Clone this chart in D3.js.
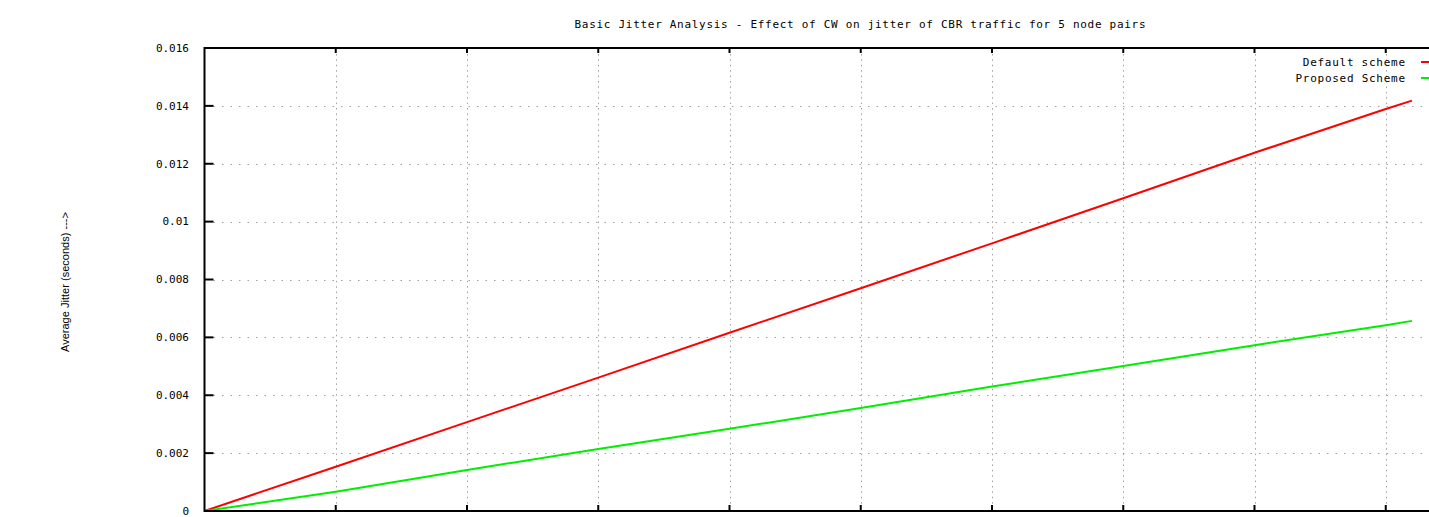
<!DOCTYPE html>
<html>
<head>
<meta charset="utf-8">
<script src="https://cdn.jsdelivr.net/npm/d3@7"></script>
<style>
  body { margin: 0; background: #fff; }
  svg { display: block; }
  text { font-family: "DejaVu Sans Mono", monospace; fill: #000; }
</style>
</head>
<body>
<div id="chart"></div>
<script>
const width = 1429, height = 517;

// data (x in tick units, x labels are cut off below the frame)
const xValues = [0, 10, 20, 30, 40, 50, 60, 70, 80, 90, 92];
const defaultScheme = [0, 0.00153, 0.00307, 0.00461, 0.00616, 0.00770, 0.00925, 0.01081, 0.01238, 0.01389, 0.01418];
const proposedScheme = [0, 0.000667, 0.00142, 0.00214, 0.00284, 0.00356, 0.00430, 0.00501, 0.00573, 0.00642, 0.00657];
const yTicks = [0, 0.002, 0.004, 0.006, 0.008, 0.01, 0.012, 0.014, 0.016];
const yTickLabels = ["0", "0.002", "0.004", "0.006", "0.008", "0.01", "0.012", "0.014", "0.016"];
const xTicks = [10, 20, 30, 40, 50, 60, 70, 80, 90];
const seriesNames = ["Default scheme", "Proposed Scheme"];
const seriesColors = ["#ff0000", "#00ee00"];

const plotLeft = 204.5, plotTop = 48, plotBottom = 511;
const x = d3.scaleLinear().domain([0, 100]).range([plotLeft, plotLeft + 1312.5]);
const y = d3.scaleLinear().domain([0, 0.016]).range([plotBottom, plotTop]);

const svg = d3.select("#chart")
  .append("svg")
  .attr("width", width)
  .attr("height", height);

svg.append("defs").append("clipPath").attr("id", "plot")
  .append("rect")
  .attr("x", plotLeft).attr("y", plotTop)
  .attr("width", x(100) - plotLeft).attr("height", plotBottom - plotTop);

// grid
const grid = svg.append("g").attr("stroke", "#a0a0a0").attr("stroke-width", 1);
grid.selectAll(".gy")
  .data(yTicks.slice(1, -1))
  .enter().append("line")
  .attr("x1", plotLeft + 9).attr("x2", x(100))
  .attr("y1", d => Math.round(y(d)) + 0.5).attr("y2", d => Math.round(y(d)) + 0.5)
  .attr("stroke-dasharray", "1.5,7");
grid.selectAll(".gx")
  .data(xTicks)
  .enter().append("line")
  .attr("x1", d => Math.round(x(d)) + 0.5).attr("x2", d => Math.round(x(d)) + 0.5)
  .attr("y1", plotTop + 6).attr("y2", plotBottom - 6)
  .attr("stroke-dasharray", "1.5,3.9");

// series
const line = d3.line()
  .x((d, i) => x(xValues[i]))
  .y(d => y(d));

const plot = svg.append("g").attr("clip-path", "url(#plot)");
[defaultScheme, proposedScheme].forEach((s, k) => {
  plot.append("path")
    .datum(s)
    .attr("fill", "none")
    .attr("stroke", seriesColors[k])
    .attr("stroke-width", 2)
    .attr("d", line);
});

// border
const border = svg.append("g").attr("stroke", "#000").attr("stroke-width", 2).attr("fill", "none");
border.append("path")
  .attr("d", `M${x(100)},${plotTop}H${plotLeft}V${plotBottom}H${x(100)}`);

// y ticks
border.selectAll(".ty")
  .data(yTicks)
  .enter().append("line")
  .attr("x1", plotLeft).attr("x2", plotLeft + 9)
  .attr("y1", d => y(d)).attr("y2", d => y(d));

// x ticks, top and bottom
border.selectAll(".tb")
  .data(xTicks)
  .enter().append("line")
  .attr("x1", d => x(d)).attr("x2", d => x(d))
  .attr("y1", plotBottom).attr("y2", plotBottom - 6);
border.selectAll(".tt")
  .data(xTicks)
  .enter().append("line")
  .attr("x1", d => x(d)).attr("x2", d => x(d))
  .attr("y1", plotTop).attr("y2", plotTop + 5);

// y tick labels
svg.selectAll(".yl")
  .data(yTicks)
  .enter().append("text")
  .attr("x", 189)
  .attr("y", d => y(d))
  .attr("dy", "0.35em")
  .attr("text-anchor", "end")
  .attr("font-size", 11)
  .text((d, i) => yTickLabels[i]);

// title
svg.append("text")
  .attr("x", 860).attr("y", 24)
  .attr("dy", "0.35em")
  .attr("text-anchor", "middle")
  .attr("font-size", 11)
  .attr("textLength", 571)
  .text("Basic Jitter Analysis - Effect of CW on jitter of CBR traffic for 5 node pairs");

// y axis label
svg.append("text")
  .attr("transform", "translate(65,282) rotate(-90)")
  .attr("dy", "0.35em")
  .attr("text-anchor", "middle")
  .attr("font-size", 11)
  .style("font-family", "'Liberation Sans Narrow', 'Liberation Sans', sans-serif")
  .attr("textLength", 140)
  .text("Average Jitter (seconds) --->");

// legend
const legend = svg.append("g");
seriesNames.forEach((name, k) => {
  const ly = 62 + k * 16;
  legend.append("text")
    .attr("x", 1405).attr("y", ly)
    .attr("dy", "0.35em")
    .attr("text-anchor", "end")
    .attr("font-size", 11)
    .attr("textLength", name.length * 7.3)
    .text(name);
  legend.append("line")
    .attr("x1", 1421).attr("x2", 1460)
    .attr("y1", ly).attr("y2", ly)
    .attr("stroke", seriesColors[k])
    .attr("stroke-width", 2);
});
</script>
</body>
</html>
